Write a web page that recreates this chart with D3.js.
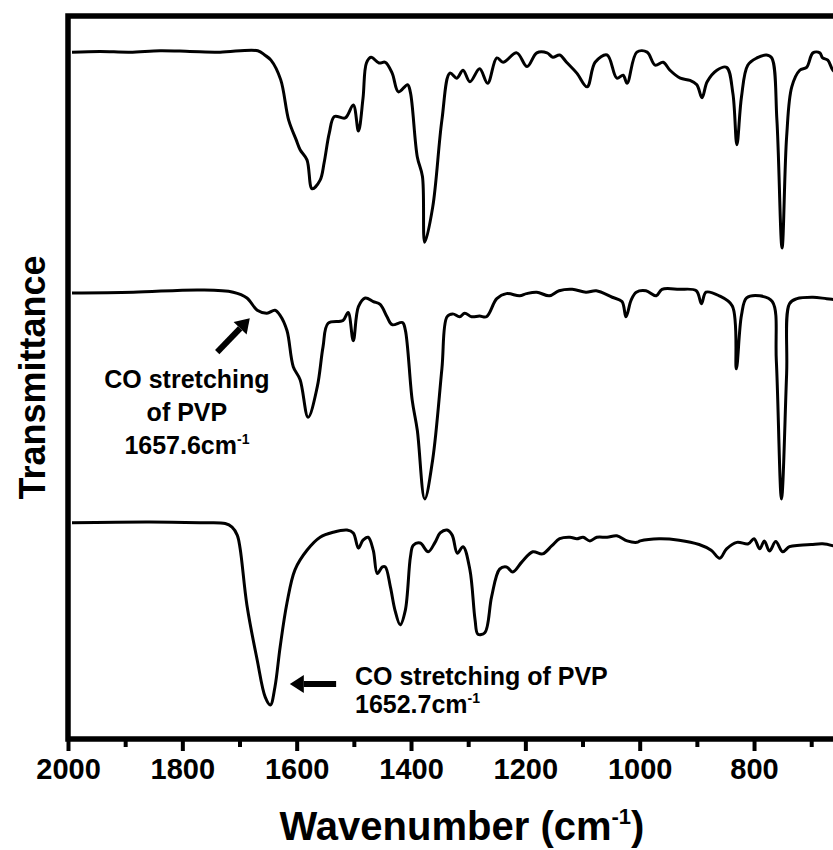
<!DOCTYPE html>
<html>
<head>
<meta charset="utf-8">
<script src="https://cdn.jsdelivr.net/npm/d3@7"></script>
<style>
  body { margin: 0; background: #fff; }
  text { font-family: "Liberation Sans", Arial, sans-serif; font-weight: bold; fill: #000; }
</style>
</head>
<body>
<div id="graph"></div>
<script>
// set the dimensions of the graph
var W = 833, H = 850;
var margin = {top: 16, left: 68, bottom: 111};

// spectra, [wavenumber (cm-1), transmittance (a.u.)]
var topCurve = [
  [1993,95.0],[1944,95.1],[1892,95.0],[1839,95.2],[1787,95.1],[1734,95.0],[1668,95.2],[1656,94.6],
  [1645,93.9],[1628,91.2],[1614,85.6],[1601,82.9],[1594,81.5],[1582,80.1],[1573,76.1],[1559,77.3],
  [1552,79.7],[1543,83.8],[1534,86.1],[1515,85.9],[1501,87.7],[1492,84.1],[1484,88.6],[1478,93.5],
  [1470,94.3],[1456,93.5],[1445,93.6],[1433,92.1],[1422,89.5],[1406,90.5],[1401,89.4],[1389,80.5],
  [1380,77.8],[1376,68.7],[1362,73.6],[1346,85.6],[1332,92.1],[1320,91.4],[1309,92.5],[1297,90.9],
  [1280,92.7],[1266,90.7],[1250,94.2],[1239,93.6],[1215,94.9],[1197,93.0],[1180,94.9],[1162,94.9],
  [1152,94.3],[1140,94.6],[1128,93.6],[1110,92.1],[1092,90.2],[1078,93.6],[1057,94.6],[1040,91.4],
  [1029,91.8],[1022,90.7],[1005,95.0],[987,95.0],[973,93.2],[959,93.6],[947,92.5],[929,91.4],
  [912,91.1],[900,90.5],[891,88.7],[882,90.9],[865,92.5],[848,92.9],[837,89.3],[830,82.2],
  [822,88.8],[811,93.2],[795,94.2],[778,94.6],[769,94.2],[760,85.6],[751,67.9],[743,83.3],
  [734,90.2],[720,92.5],[708,92.9],[697,94.9],[685,94.9],[680,94.2],[671,93.9],[662,92.5],[650,91.8]
];
var midCurve = [
  [1993,61.7],[1886,61.8],[1769,62.1],[1711,61.8],[1687,61.0],[1669,59.3],[1652,58.9],[1638,59.3],
  [1629,58.6],[1617,56.5],[1606,51.5],[1594,49.7],[1580,44.5],[1564,48.7],[1554,54.2],[1545,57.5],
  [1519,57.9],[1510,59.0],[1501,55.1],[1492,59.8],[1480,61.0],[1466,60.5],[1454,60.1],[1442,58.4],
  [1433,57.3],[1415,57.6],[1410,56.6],[1398,46.9],[1389,42.7],[1376,33.2],[1362,38.7],[1346,51.2],
  [1337,58.4],[1327,58.8],[1315,58.4],[1306,58.9],[1294,58.4],[1280,58.5],[1268,58.4],[1250,60.9],
  [1233,61.6],[1210,61.3],[1198,61.6],[1180,61.8],[1158,61.3],[1141,62.0],[1118,62.2],[1094,61.8],
  [1076,62.0],[1048,61.1],[1031,60.5],[1024,58.4],[1015,60.7],[1006,61.8],[989,62.0],[971,61.3],
  [961,62.2],[931,62.2],[901,62.0],[892,60.2],[884,61.8],[861,61.3],[838,59.9],[831,51.2],
  [822,58.6],[813,61.0],[790,61.3],[768,60.5],[761,52.3],[752,33.2],[743,50.5],[738,60.2],
  [725,60.9],[697,61.1],[673,60.9],[650,60.7]
];
var botCurve = [
  [1993,29.9],[1857,30.0],[1769,29.9],[1725,29.8],[1713,29.3],[1704,28.2],[1699,26.4],[1687,18.5],
  [1669,10.9],[1655,5.8],[1646,4.7],[1638,7.2],[1629,12.7],[1617,18.8],[1603,23.4],[1582,26.1],
  [1559,27.9],[1536,28.6],[1512,28.9],[1501,28.5],[1492,26.4],[1484,27.5],[1475,27.9],[1466,26.1],
  [1459,22.9],[1450,23.8],[1445,23.8],[1436,21.0],[1428,17.8],[1419,15.8],[1410,17.8],[1401,25.2],
  [1396,26.8],[1384,27.1],[1370,25.9],[1358,27.2],[1349,28.5],[1337,28.9],[1328,28.2],[1319,25.7],
  [1309,26.6],[1297,23.4],[1288,16.5],[1283,14.5],[1271,14.7],[1259,19.7],[1245,23.5],[1233,23.8],
  [1222,23.1],[1206,24.5],[1187,25.9],[1170,25.6],[1154,26.7],[1140,27.7],[1122,27.9],[1110,27.7],
  [1099,27.9],[1087,27.4],[1075,27.9],[1057,27.9],[1040,28.1],[1022,27.4],[1005,27.2],[999,27.4],
  [966,27.7],[931,27.5],[896,26.9],[875,26.1],[860,25.0],[848,26.3],[830,27.2],[810,27.0],
  [800,27.7],[790,26.3],[782,27.4],[773,26.0],[762,27.3],[750,25.9],[738,26.6],[720,26.8],[700,26.9],
  [680,27.0],[660,26.7]
];
var majorTicks = [2000, 1800, 1600, 1400, 1200, 1000, 800];
var minorTicks = [1900, 1700, 1500, 1300, 1100, 900, 700];

var svg = d3.select("#graph")
  .append("svg")
  .attr("width", W)
  .attr("height", H);

var x = d3.scaleLinear().domain([2000, 600]).range([margin.left, margin.left + 1400 * 0.5717]);
var y = d3.scaleLinear().domain([0, 100]).range([H - margin.bottom, margin.top]);

var line = d3.line()
  .x(function(d) { return x(d[0]); })
  .y(function(d) { return y(d[1]); })
  .curve(d3.curveCatmullRom.alpha(0.5));

[topCurve, midCurve, botCurve].forEach(function(c) {
  svg.append("path")
    .datum(c)
    .attr("d", line)
    .attr("fill", "none")
    .attr("stroke", "#000")
    .attr("stroke-width", 3)
    .attr("stroke-linejoin", "round");
});

// frame (right side runs past the picture edge)
svg.append("rect")
  .attr("x", x(2000)).attr("y", y(100))
  .attr("width", x(600) - x(2000)).attr("height", y(0) - y(100))
  .attr("fill", "none").attr("stroke", "#000").attr("stroke-width", 5.5);

// ticks
var axisMajor = d3.axisBottom(x).tickValues(majorTicks).tickSize(12).tickSizeOuter(0).tickPadding(7)
  .tickFormat(d3.format("d"));
var gx = svg.append("g").attr("transform", "translate(0," + y(0) + ")").call(axisMajor);
gx.select(".domain").remove();
gx.selectAll(".tick line").attr("stroke-width", 4);
gx.selectAll(".tick text").style("font-size", "29px").attr("font-family", null);

var axisMinor = d3.axisBottom(x).tickValues(minorTicks).tickSize(8).tickFormat("");
var gm = svg.append("g").attr("transform", "translate(0," + y(0) + ")").call(axisMinor);
gm.select(".domain").remove();
gm.selectAll(".tick line").attr("stroke-width", 4);

// axis titles
var xt = svg.append("text")
  .attr("x", 462).attr("y", 840)
  .attr("text-anchor", "middle")
  .style("font-size", "40px")
  .text("Wavenumber (cm");
xt.append("tspan").attr("dy", -16).style("font-size", "22px").text("-1");
xt.append("tspan").attr("dy", 16).text(")");

svg.append("text")
  .attr("transform", "translate(45," + (y(50)) + ") rotate(-90)")
  .attr("text-anchor", "middle")
  .style("font-size", "36px")
  .text("Transmittance");

// annotations
function arrow(x1, y1, x2, y2) {
  var ang = Math.atan2(y2 - y1, x2 - x1), hl = 14, hw = 9;
  var bx = x2 - hl * Math.cos(ang), by = y2 - hl * Math.sin(ang);
  svg.append("line").attr("x1", x1).attr("y1", y1).attr("x2", bx).attr("y2", by)
    .attr("stroke", "#000").attr("stroke-width", 6);
  svg.append("polygon")
    .attr("points", [[x2, y2],
      [bx + hw * Math.sin(ang), by - hw * Math.cos(ang)],
      [bx - hw * Math.sin(ang), by + hw * Math.cos(ang)]].join(" "))
    .attr("fill", "#000");
}
arrow(x(1739), y(53.5), x(1682), y(58.2));
arrow(x(1531), y(7.6), x(1612), y(7.6));

var midLabel = ["CO stretching", "of PVP"];
midLabel.forEach(function(t, i) {
  svg.append("text").attr("x", x(1792)).attr("y", 388 + i * 33)
    .attr("text-anchor", "middle").style("font-size", "25px").text(t);
});
var m3 = svg.append("text").attr("x", x(1792)).attr("y", 454)
  .attr("text-anchor", "middle").style("font-size", "25px").text("1657.6cm");
m3.append("tspan").attr("dy", -10).style("font-size", "14px").text("-1");

svg.append("text").attr("x", x(1498)).attr("y", 685)
  .style("font-size", "25px").text("CO stretching of PVP");
var b2 = svg.append("text").attr("x", x(1498)).attr("y", 713)
  .style("font-size", "25px").text("1652.7cm");
b2.append("tspan").attr("dy", -10).style("font-size", "14px").text("-1");
</script>
</body>
</html>
